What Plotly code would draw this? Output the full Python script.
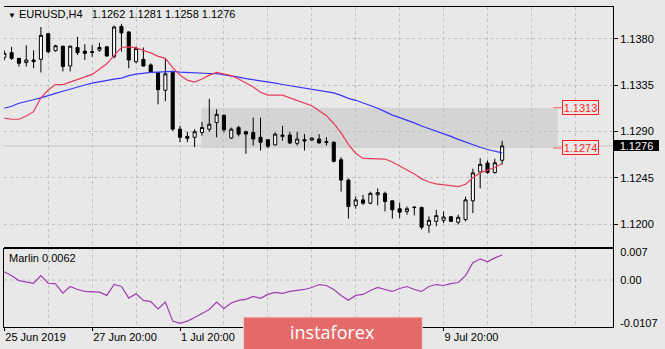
import plotly.graph_objects as go

symbol = "EURUSD"
timeframe = "H4"

open_ = [1.13619, 1.13664, 1.13609, 1.13568, 1.13593, 1.13599, 1.13848, 1.13683, 1.13727, 1.13535,
         1.13714, 1.13679, 1.13673, 1.13688, 1.13721, 1.13625, 1.13918, 1.13865, 1.13577, 1.13599,
         1.13545, 1.13472, 1.13299, 1.13472, 1.12922, 1.12852, 1.12843, 1.12890, 1.12922, 1.12986,
         1.13056, 1.12836, 1.12938, 1.12897, 1.12890, 1.12843, 1.12820, 1.12769, 1.12865, 1.12865,
         1.12785, 1.12820, 1.12817, 1.12826, 1.12801, 1.12795, 1.12625, 1.12428, 1.12182, 1.12236,
         1.12204, 1.12284, 1.12299, 1.12227, 1.12150, 1.12124, 1.12162, 1.12162, 1.11990, 1.12028,
         1.12038, 1.12073, 1.12019, 1.12045, 1.12227, 1.12507, 1.12593, 1.12501, 1.1262]
high = [1.13686, 1.13721, 1.13612, 1.13736, 1.13688, 1.13913, 1.13850, 1.13740, 1.13730, 1.13735,
        1.13817, 1.13746, 1.13736, 1.13759, 1.13725, 1.13928, 1.13944, 1.13870, 1.13724, 1.13714,
        1.13561, 1.13475, 1.13609, 1.13478, 1.12955, 1.12897, 1.12922, 1.12993, 1.13216, 1.13114,
        1.13066, 1.12938, 1.12955, 1.12907, 1.13034, 1.13034, 1.12826, 1.12890, 1.12955, 1.12897,
        1.12897, 1.12874, 1.12843, 1.12874, 1.12843, 1.12804, 1.12651, 1.12443, 1.12268, 1.12284,
        1.12316, 1.12347, 1.12316, 1.12230, 1.12210, 1.12172, 1.12172, 1.12172, 1.12076, 1.12140,
        1.12124, 1.12080, 1.12092, 1.12268, 1.12539, 1.12641, 1.12619, 1.12635, 1.1281]
low = [1.13590, 1.13593, 1.13529, 1.13529, 1.13513, 1.13472, 1.13657, 1.13675, 1.13482, 1.13482,
       1.13641, 1.13593, 1.13625, 1.13673, 1.13625, 1.13609, 1.13673, 1.13513, 1.13561, 1.13530,
       1.13468, 1.13162, 1.13194, 1.12907, 1.12795, 1.12795, 1.12747, 1.12859, 1.12897, 1.12843,
       1.12890, 1.12826, 1.12852, 1.12683, 1.12763, 1.12715, 1.12737, 1.12763, 1.12811, 1.12778,
       1.12763, 1.12715, 1.12807, 1.12785, 1.12763, 1.12600, 1.12316, 1.12054, 1.12150, 1.12188,
       1.12194, 1.12182, 1.12124, 1.12054, 1.12060, 1.12092, 1.12086, 1.11949, 1.11916, 1.11980,
       1.12012, 1.12022, 1.11997, 1.12028, 1.12108, 1.12347, 1.12490, 1.12491, 1.1258]
close = [1.13657, 1.13609, 1.13561, 1.13593, 1.13577, 1.13832, 1.13673, 1.13731, 1.13529, 1.13727,
         1.13664, 1.13657, 1.13666, 1.13714, 1.13632, 1.13913, 1.13855, 1.13593, 1.13705, 1.13535,
         1.13472, 1.13305, 1.13459, 1.12922, 1.12843, 1.12833, 1.12897, 1.12938, 1.12970, 1.13066,
         1.12916, 1.12922, 1.12874, 1.12874, 1.12826, 1.12795, 1.12756, 1.12874, 1.12852, 1.12788,
         1.12826, 1.12807, 1.12836, 1.12788, 1.12795, 1.12610, 1.12428, 1.12172, 1.12236, 1.12204,
         1.12299, 1.12306, 1.12220, 1.12140, 1.12117, 1.12150, 1.12165, 1.11971, 1.12038, 1.12083,
         1.12070, 1.12028, 1.12067, 1.12236, 1.12498, 1.12581, 1.12501, 1.12596, 1.1276]

ma_fast = [1.13029, 1.13018, 1.13018, 1.13049, 1.13092, 1.13226, 1.13302, 1.13355, 1.13355, 1.13379,
           1.13401, 1.13427, 1.13453, 1.13504, 1.13556, 1.13638, 1.13714, 1.13721, 1.13711, 1.13686,
           1.13662, 1.13628, 1.13609, 1.13518, 1.13446, 1.13398, 1.13379, 1.13408, 1.13446, 1.13472,
           1.13456, 1.13441, 1.13408, 1.13369, 1.13331, 1.13280, 1.13252, 1.13252, 1.13252, 1.13226,
           1.13202, 1.13175, 1.13149, 1.13101, 1.13053, 1.12977, 1.12886, 1.12775, 1.12689, 1.12638,
           1.12635, 1.12635, 1.12632, 1.12603, 1.12565, 1.12526, 1.12488, 1.12440, 1.12409, 1.12392,
           1.12383, 1.12373, 1.12365, 1.12387, 1.12450, 1.12498, 1.12524, 1.12550, 1.12589]
ma_slow = [1.13125, 1.13144, 1.13173, 1.13187, 1.13207, 1.13226, 1.13250, 1.13269, 1.13290, 1.13312,
           1.13331, 1.13350, 1.13369, 1.13384, 1.13398, 1.13408, 1.13417, 1.13441, 1.13456, 1.13465,
           1.13472, 1.13475, 1.13480, 1.13482, 1.13475, 1.13470, 1.13465, 1.13460, 1.13462, 1.13460,
           1.13451, 1.13437, 1.13427, 1.13413, 1.13403, 1.13395, 1.13384, 1.13369, 1.13355, 1.13343,
           1.13331, 1.13319, 1.13309, 1.13302, 1.13290, 1.13274, 1.13250, 1.13221, 1.13202, 1.13178,
           1.13154, 1.13125, 1.13092, 1.13058, 1.13034, 1.13010, 1.12983, 1.12953, 1.12929, 1.12905,
           1.12876, 1.12852, 1.12823, 1.12797, 1.12769, 1.12747, 1.12725, 1.12706, 1.12692]
marlin = [0.00208, 0.00110, -0.00012, -0.00044, -0.00078, 0.00110, -0.00078, -0.00093, -0.00323, -0.00159,
          -0.00232, -0.00281, -0.00298, -0.00298, -0.00379, -0.00110, -0.00159, -0.00445, -0.00337, -0.00501,
          -0.00533, -0.00714, -0.00543, -0.01015, -0.01070, -0.01015, -0.00924, -0.00826, -0.00729, -0.00543,
          -0.00704, -0.00567, -0.00501, -0.00477, -0.00403, -0.00452, -0.00355, -0.00306, -0.00330, -0.00281,
          -0.00257, -0.00232, -0.00183, -0.00110, -0.00134, -0.00232, -0.00379, -0.00501, -0.00379, -0.00355,
          -0.00257, -0.00183, -0.00232, -0.00281, -0.00208, -0.00159, -0.00232, -0.00281, -0.00159, -0.00110,
          -0.00134, -0.00086, -0.00061, 0.00110, 0.00428, 0.00526, 0.00452, 0.00550, 0.0062]

bars = list(range(len(close)))

# labels at bars 36 and 48 are hidden behind the watermark in the reference
date_tick_bars = [0, 12, 24, 36, 48, 60]
date_tick_text = ["25 Jun 2019", "27 Jun 20:00", "1 Jul 20:00", "", "", "9 Jul 20:00"]
price_ticks = [1.1200, 1.1245, 1.1290, 1.1335, 1.1380]
marlin_ticks = [0.007, 0.0, -0.0107]
marlin_tick_text = ["0.007", "0.00", "-0.0107"]

zone_levels = [1.1274, 1.1313]
zone_bars = [26.9, 75.6]
bid_price = 1.1276

BG = "#e8e8e8"
GRID = "#c2c2c2"
FONT = "Liberation Sans, Arial, sans-serif"
TXT = "#000000"

fig = go.Figure()

fig.add_trace(go.Candlestick(
    x=bars, open=open_, high=high, low=low, close=close,
    xaxis="x", yaxis="y",
    increasing=dict(line=dict(color="black", width=1), fillcolor="white"),
    decreasing=dict(line=dict(color="black", width=1), fillcolor="black"),
    whiskerwidth=0, showlegend=False, hoverinfo="skip"))
fig.add_trace(go.Scatter(x=bars, y=ma_slow, mode="lines", xaxis="x", yaxis="y",
                         line=dict(color="#3535ff", width=1.2), showlegend=False, hoverinfo="skip"))
fig.add_trace(go.Scatter(x=bars, y=ma_fast, mode="lines", xaxis="x", yaxis="y",
                         line=dict(color="#e63c5a", width=1.2), showlegend=False, hoverinfo="skip"))
fig.add_trace(go.Scatter(x=bars, y=marlin, mode="lines", xaxis="x2", yaxis="y2",
                         line=dict(color="#a23cb4", width=1.2), showlegend=False, hoverinfo="skip"))

xr = [-0.04, 83.14]
grid_minor = dict(tickmode="linear", tick0=0, dtick=6, showgrid=True, gridcolor=GRID,
                  griddash="3px,3px", gridwidth=1, ticks="")

fig.update_layout(
    width=665, height=349,
    margin=dict(l=3, r=52, t=3, b=22),
    paper_bgcolor=BG, plot_bgcolor=BG,
    font=dict(family=FONT, size=11, color=TXT),
    boxgap=0.4,
    showlegend=False,
    xaxis=dict(domain=[0, 1], range=xr, anchor="y", showticklabels=False,
               tickmode="array", tickvals=date_tick_bars, ticks="",
               showgrid=True, gridcolor=GRID, griddash="3px,3px", minor=grid_minor,
               showline=True, mirror=True, linecolor="black", linewidth=1,
               zeroline=False, rangeslider=dict(visible=False), fixedrange=True),
    yaxis=dict(domain=[0.25, 1], range=[1.11779, 1.14107], side="right", anchor="x",
               tickmode="array", tickvals=price_ticks, ticktext=[f"{v:.4f}" for v in price_ticks],
               ticks="outside", ticklen=4, tickcolor="black",
               showgrid=True, gridcolor=GRID, griddash="3px,3px",
               showline=True, linecolor="black", linewidth=1, zeroline=False),
    xaxis2=dict(domain=[0, 1], range=xr, anchor="y2",
                tickmode="array", tickvals=date_tick_bars, ticktext=date_tick_text,
                ticks="outside", ticklen=3, tickcolor="black", ticklabelposition="outside right",
                showgrid=True, gridcolor=GRID, griddash="3px,3px", minor=grid_minor,
                showline=True, mirror=True, linecolor="black", linewidth=1, zeroline=False),
    yaxis2=dict(domain=[0, 0.2423], range=[-0.01161, 0.00758], side="right", anchor="x2",
                tickmode="array", tickvals=marlin_ticks, ticktext=marlin_tick_text,
                ticks="", ticklabelstandoff=4, showgrid=False,
                showline=True, mirror=True, linecolor="black", linewidth=1, zeroline=False),
)

# zero level in indicator window
fig.add_shape(type="line", xref="x2 domain", x0=0, x1=1, yref="y2", y0=0, y1=0,
              line=dict(color=GRID, width=1, dash="3px,3px"), layer="below")
# price zone rectangle
fig.add_shape(type="rect", xref="x", x0=zone_bars[0], x1=zone_bars[1], yref="y",
              y0=zone_levels[0], y1=zone_levels[1], fillcolor="#d4d4d4", line=dict(width=0),
              layer="below")
# bid line
fig.add_shape(type="line", xref="x domain", x0=0, x1=1, yref="y", y0=bid_price, y1=bid_price,
              line=dict(color="#c4c4c4", width=1), layer="below")

for lvl in zone_levels:
    fig.add_shape(type="line", xref="paper", x0=0.9016, x1=0.9164, yref="y", y0=lvl, y1=lvl,
                  line=dict(color="#f06464", width=1))
    fig.add_annotation(text=f"{lvl:.4f}", xref="paper", x=0.9164, xanchor="left",
                       yref="y", y=lvl, yanchor="middle", showarrow=False,
                       font=dict(family=FONT, size=11, color="#ff1e1e"),
                       bordercolor="#ff1e1e", borderwidth=1, borderpad=1, bgcolor=BG,
                       width=33, height=11)

fig.add_annotation(text=f"{bid_price:.4f}", xref="paper", x=1, xanchor="left", xshift=1,
                   yref="y", y=bid_price, yanchor="middle", showarrow=False,
                   font=dict(family=FONT, size=11, color="white"),
                   bgcolor="black", borderpad=1, borderwidth=0, width=43, height=9)

header = ('<span style="font-size:8px">▼</span>\u00a0' + f"{symbol},{timeframe}" + "\u00a0\u00a0 "
          + " ".join(f"{v:.4f}" for v in (open_[-1], high[-1], low[-1], close[-1])))
fig.add_annotation(text=header, xref="paper", x=0, xanchor="left", xshift=2,
                   yref="paper", y=1, yanchor="middle", yshift=-7, showarrow=False,
                   font=dict(family=FONT, size=11, color=TXT))

fig.add_annotation(text=f"Marlin {marlin[-1]:.4f}", xref="paper", x=0, xanchor="left", xshift=3,
                   yref="y2 domain", y=1, yanchor="middle", yshift=-9, showarrow=False,
                   font=dict(family=FONT, size=11, color=TXT))

# watermark
fig.add_shape(type="rect", xref="paper", yref="paper", x0=0.3934, x1=0.6869, y0=-0.08, y1=0.0309,
              fillcolor="#e46a6a", line=dict(color="#f3cccc", width=1), layer="above")
fig.add_annotation(text="instaforex", xref="paper", x=0.5402, xanchor="center",
                   yref="paper", y=-0.016, yanchor="middle", showarrow=False,
                   font=dict(family="Open Sans", size=18, color="white"))

fig.write_html("out.html")
